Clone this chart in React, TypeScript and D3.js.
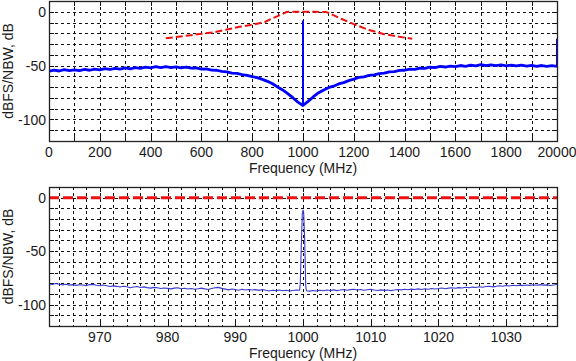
import * as d3 from "d3";

// ---- top panel: wideband spectrum, 0..2000 MHz ----
const topFreqStep = 20;
const topNoise = [
  -55.2, -54.1, -55.0, -53.8, -54.6, -53.9, -54.7, -53.5, -54.3, -53.2,
  -53.9, -52.8, -53.6, -52.5, -53.3, -52.2, -53.0, -51.8, -52.6, -51.4,
  -52.2, -51.0, -51.9, -50.9, -51.8, -51.2, -52.0, -51.3, -52.4, -52.1,
  -53.2, -53.0, -54.1, -54.3, -55.4, -55.8, -56.9, -57.2, -58.4, -59.0,
  -60.3, -61.2, -62.8, -64.6, -66.9, -69.8, -72.6, -76.0, -79.8, -83.9,
  -87.0, -83.2, -79.1, -75.4, -72.8, -70.5, -69.1, -67.0, -65.8, -63.9,
  -62.6, -61.0, -60.4, -59.1, -58.6, -57.4, -57.0, -55.8, -55.6, -54.5,
  -54.3, -53.2, -53.4, -52.3, -52.6, -51.5, -51.9, -50.8, -51.3, -50.4,
  -50.9, -49.9, -50.6, -49.6, -50.2, -49.1, -50.0, -49.4, -50.1, -49.3,
  -50.2, -49.5, -50.3, -49.6, -50.4, -49.8, -50.6, -49.9, -50.7, -50.1,
  -50.8,
];
// vertical spikes (MHz, low dB, high dB)
const topSpikeFreq = [0, 1000, 2000];
const topSpikeLow = [-55, -87, -51];
const topSpikeHigh = [-31, -8, -25];
// red dashed envelope
const topMaskFreq = [460, 500, 550, 600, 650, 700, 750, 800, 850, 880, 910, 935, 950, 1000, 1050, 1090, 1100, 1150, 1200, 1260, 1320, 1380, 1430];
const topMaskVal = [-24.5, -23.5, -22, -20.5, -19, -16.5, -14, -12, -9.5, -6, -3, -0.3, 0, 0, 0, -0.3, -1, -6.5, -11.5, -17, -20.8, -23.3, -25];
const topTickVals = [0, 200, 400, 600, 800, 1000, 1200, 1400, 1600, 1800, 2000];
const topTickLabels = ["0", "200", "400", "600", "800", "1000", "1200", "1400", "1600", "1800", "20000"];

// ---- bottom panel: zoom 962.5..1037.5 MHz ----
const botStart = 962.5;
const botStep = 0.5;
const botNoise = [
  -80.6, -81.2, -80.3, -80.9, -81.5, -81.0, -81.8, -81.3, -82.0, -81.4,
  -81.7, -82.2, -81.3, -81.1, -81.9, -82.4, -81.6, -82.3, -83.0, -82.5,
  -82.9, -83.6, -82.8, -83.3, -84.2, -83.5, -83.1, -84.0, -83.4, -84.1,
  -84.6, -83.9, -84.3, -85.0, -84.4, -84.8, -85.3, -84.6, -84.2, -85.1,
  -84.7, -85.4, -84.9, -85.6, -85.2, -84.6, -85.3, -85.8, -85.0, -84.3,
  -83.9, -84.8, -85.5, -86.2, -85.4, -85.9, -86.5, -85.7, -86.3, -85.8,
  -86.4, -86.0, -86.7, -85.9, -86.6, -87.2, -86.5, -86.9, -86.3, -87.0,
  -86.6, -87.3, -86.8, -86.4, -86.5, -86.2, -87.0, -87.4, -86.8, -87.2,
  -86.6, -87.1, -86.3, -86.8, -86.2, -86.9, -86.4, -85.8, -86.5, -86.0,
  -85.6, -86.3, -85.9, -86.6, -86.1, -85.7, -86.4, -86.8, -86.2, -86.7,
  -86.3, -86.9, -86.4, -85.8, -86.2, -85.6, -86.1, -85.5, -85.9, -85.3,
  -85.8, -85.2, -85.6, -84.9, -85.4, -85.0, -84.5, -85.1, -84.6, -84.2,
  -84.7, -84.1, -84.5, -83.8, -84.3, -83.6, -84.0, -83.3, -83.7, -83.1,
  -82.8, -83.4, -82.9, -82.3, -82.8, -82.1, -82.6, -81.9, -82.4, -81.8,
  -82.2, -81.6, -82.0, -81.4, -81.9, -81.3, -81.8, -81.5, -82.1, -81.6,
  -81.2,
];
const botPeakFreq = [999.6, 999.75, 999.9, 1000.0, 1000.1, 1000.25, 1000.4];
const botPeakVal = [-80, -45, -15, -11.5, -14, -40, -82];
const botMaskFreq = [962.5, 1037.5];
const botMaskVal = [0, 0];
const botTickVals = [970, 980, 990, 1000, 1010, 1020, 1030];

const yTickVals = [0, -50, -100];

const FONT = "Arial, 'Liberation Sans', sans-serif";
const TXT = "#1a1a1a";

// snap to pixel centre so the 1px dashed grid stays crisp
const px = v => Math.round(v) + 0.5;

function Panel({ box, xDomain, xGrid, xTicks, xLabels, xEdgeTicks, blue, blueWidth, blueColor, spikes, red, redWidth, redDash, id }) {
  const x = d3.scaleLinear().domain(xDomain).range([box.x0, box.x1]);
  const y = d3.scaleLinear().domain([-120, 10]).range([box.y1, box.y0]);
  const yGrid = d3.range(-110, 10, 10);
  const line = d3.line().x(d => x(d[0])).y(d => y(d[1]));
  return (
    <g>
      <defs>
        <clipPath id={id}>
          <rect x={box.x0} y={box.y0} width={box.x1 - box.x0} height={box.y1 - box.y0} />
        </clipPath>
      </defs>
      <rect x={box.x0} y={box.y0} width={box.x1 - box.x0} height={box.y1 - box.y0} fill="#fff" />
      {xGrid.map(v => (
        <line key={"gx" + v} x1={px(x(v))} x2={px(x(v))} y1={box.y0} y2={box.y1} stroke="#111" strokeWidth={1} strokeDasharray="3,3" />
      ))}
      {yGrid.map(v => (
        <line key={"gy" + v} x1={box.x0} x2={box.x1} y1={px(y(v))} y2={px(y(v))} stroke="#111" strokeWidth={1} strokeDasharray="3,3" />
      ))}
      {xEdgeTicks.map(v => (
        <g key={"tx" + v}>
          <line x1={px(x(v))} x2={px(x(v))} y1={box.y0} y2={box.y0 + 5} stroke="#111" />
          <line x1={px(x(v))} x2={px(x(v))} y1={box.y1} y2={box.y1 - 5} stroke="#111" />
        </g>
      ))}
      {yGrid.map(v => (
        <g key={"ty" + v}>
          <line x1={box.x0} x2={box.x0 + 5} y1={px(y(v))} y2={px(y(v))} stroke="#111" />
          <line x1={box.x1} x2={box.x1 - 5} y1={px(y(v))} y2={px(y(v))} stroke="#111" />
        </g>
      ))}
      <g clipPath={`url(#${id})`}>
        <path d={line(blue)} fill="none" stroke={blueColor} strokeWidth={blueWidth} strokeLinejoin="round" />
        {spikes.map((s, i) => (
          <line key={"sp" + i} x1={x(s[0])} x2={x(s[0])} y1={y(s[1])} y2={y(s[2])} stroke={blueColor} strokeWidth={2} />
        ))}
        <path d={line(red)} fill="none" stroke="#ee1111" strokeWidth={redWidth} strokeDasharray={redDash} />
      </g>
      <rect x={box.x0 + 0.5} y={box.y0 + 0.5} width={box.x1 - box.x0} height={box.y1 - box.y0} fill="none" stroke="#222" strokeWidth={1.3} />
      {yTickVals.map(v => (
        <text key={"yl" + v} x={box.x0 - 3} y={y(v)} dy="0.36em" textAnchor="end" fontSize={14} fontFamily={FONT} fill={TXT}>{v}</text>
      ))}
      {xTicks.map((v, i) => (
        <text key={"xl" + v} x={x(v)} y={box.y1 + 16} textAnchor="middle" fontSize={14} fontFamily={FONT} fill={TXT}>{xLabels[i]}</text>
      ))}
      <text x={(box.x0 + box.x1) / 2} y={box.y1 + 32} textAnchor="middle" fontSize={14} fontFamily={FONT} fill={TXT}>Frequency (MHz)</text>
      <text transform={`translate(13,${(box.y0 + box.y1) / 2}) rotate(-90)`} textAnchor="middle" fontSize={14} fontFamily={FONT} fill={TXT}>dBFS/NBW, dB</text>
    </g>
  );
}

export default function App() {
  const topBlue = topNoise.map((v, i) => [i * topFreqStep, v]);
  const topSpikes = topSpikeFreq.map((f, i) => [f, topSpikeLow[i], topSpikeHigh[i]]);
  const topRed = topMaskFreq.map((f, i) => [f, topMaskVal[i]]);

  const botBlue = botNoise
    .map((v, i) => [botStart + i * botStep, v])
    .filter(d => Math.abs(d[0] - 1000) > 0.45)
    .concat(botPeakFreq.map((f, i) => [f, botPeakVal[i]]))
    .sort((a, b) => a[0] - b[0]);
  const botRed = botMaskFreq.map((f, i) => [f, botMaskVal[i]]);

  return (
    <svg width={576} height={361} style={{ position: "absolute", left: 0, top: 0, background: "#fff" }}>
      <Panel
        id="clipTop"
        box={{ x0: 49, x1: 557, y0: 1, y1: 141 }}
        xDomain={[0, 2000]}
        xGrid={d3.range(100, 2000, 100)}
        xEdgeTicks={d3.range(100, 2000, 100)}
        xTicks={topTickVals}
        xLabels={topTickLabels}
        blue={topBlue}
        blueWidth={2.8}
        blueColor="#0000ff"
        spikes={topSpikes}
        red={topRed}
        redWidth={2}
        redDash="7,3"
      />
      <Panel
        id="clipBot"
        box={{ x0: 49, x1: 557, y0: 187, y1: 326 }}
        xDomain={[962.5, 1037.5]}
        xGrid={d3.range(964, 1037.5, 2)}
        xEdgeTicks={botTickVals}
        xTicks={botTickVals}
        xLabels={botTickVals.map(String)}
        blue={botBlue}
        blueWidth={1.1}
        blueColor="#3a3ad0"
        spikes={[]}
        red={botRed}
        redWidth={3}
        redDash="10,4"
      />
    </svg>
  );
}
